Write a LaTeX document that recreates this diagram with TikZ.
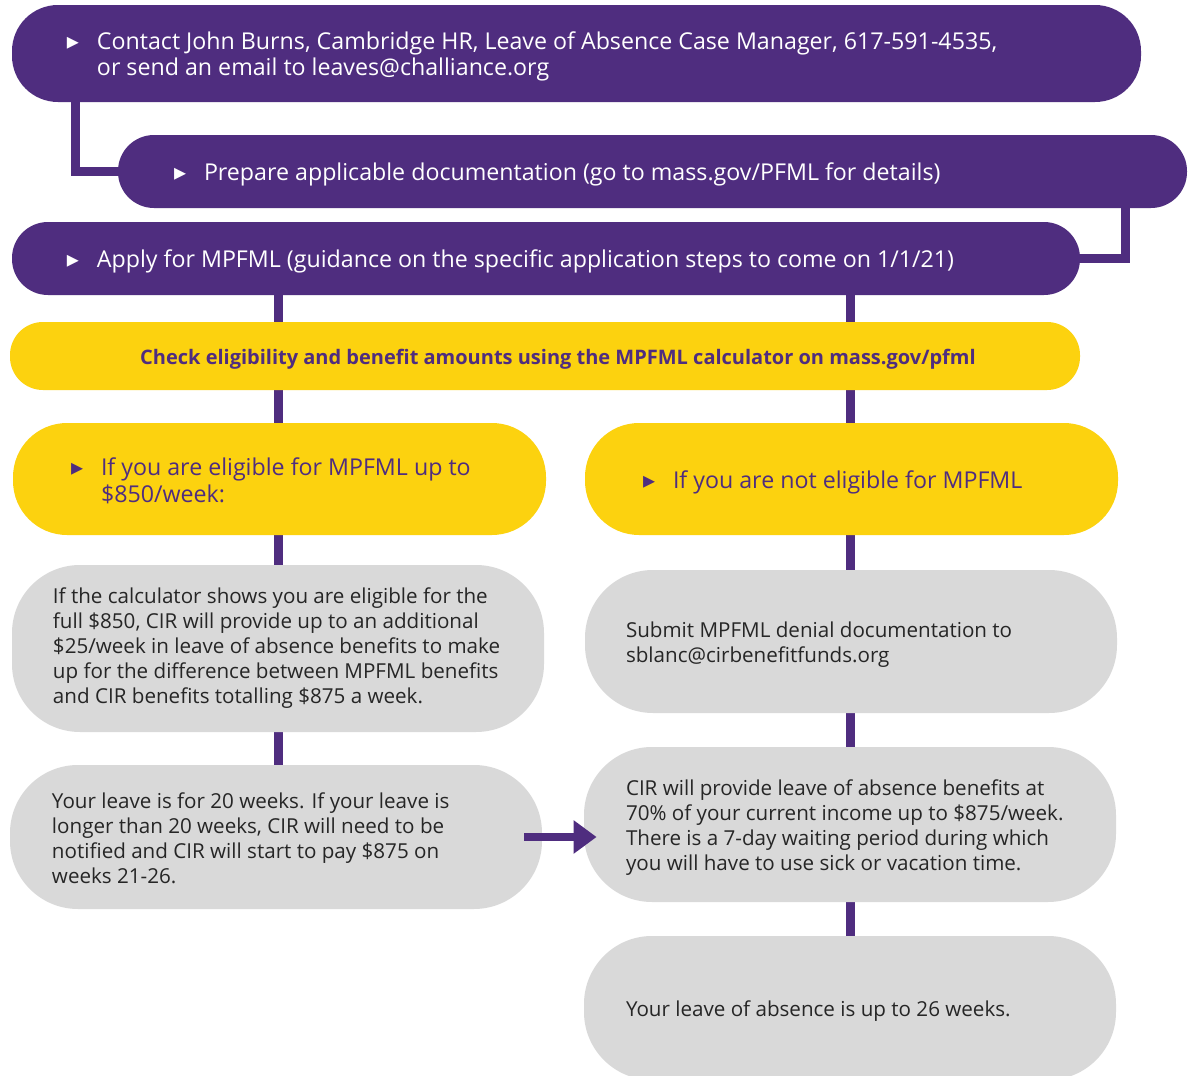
\documentclass[tikz,border=0pt]{standalone}
\usepackage{fontspec}
\setmainfont{Open Sans}
\newfontfamily\glyphfont{DejaVu Sans}
\usetikzlibrary{arrows.meta, calc, backgrounds}

\definecolor{cirpurple}{HTML}{4F2D7F}
\definecolor{ciryellow}{HTML}{FCD20F}
\definecolor{cirgray}{HTML}{D9D9D9}

\newcommand{\pointer}{\makebox[15pt][l]{\glyphfont\fontsize{12}{12}\selectfont ▸}}
\newcommand{\contindent}{\hspace*{15pt}}
% text block of fixed width, lowered a little inside its box
\newcommand{\boxtext}[3][1.8pt]{\makebox[#2][l]{\raisebox{-#1}[\height][\depth]{\begin{tabular}{@{}l@{}}#3\end{tabular}}}}

\begin{document}
\begin{tikzpicture}[
    x=0.5pt, y=-0.5pt,
    stepbox/.style={rectangle, fill=cirpurple, text=white, rounded corners=18pt, inner sep=0pt, minimum height=36.5pt, font=\fontsize{11.6}{13.5}\selectfont},
    banner/.style={rectangle, fill=ciryellow, text=cirpurple, rounded corners=16.5pt, inner sep=0pt, font=\bfseries\fontsize{10}{12}\selectfont},
    choicebox/.style={rectangle, fill=ciryellow, text=cirpurple, rounded corners=27pt, inner sep=0pt, minimum width=266.5pt, minimum height=56pt, font=\fontsize{11.6}{13.5}\selectfont},
    infobox/.style={rectangle, fill=cirgray, text=black!85, rounded corners=34pt, inner sep=0pt, minimum width=266pt, font=\fontsize{10.3}{12.5}\selectfont},
    link/.style={draw=cirpurple, line width=4.5pt}
    ]

    \useasboundingbox (0,0) rectangle (1191,1076);
    \clip (0,0) rectangle (1191,1076);

    % First steps
    \node[stepbox, rounded corners=23pt, minimum width=564.5pt, minimum height=48.5pt] (contact) at (576.5,53.5)
        {\boxtext{509.5pt}{\pointer Contact John Burns, Cambridge HR, Leave of Absence Case Manager, 617-591-4535,\\
        \contindent or send an email to leaves@challiance.org}};
    \node[stepbox, minimum width=534.5pt] (prep) at (652.5,171.5)
        {\boxtext{478.5pt}{\pointer Prepare applicable documentation (go to mass.gov/PFML for details)}};
    \node[stepbox, minimum width=534pt] (apply) at (546,258.5)
        {\boxtext{479pt}{\pointer Apply for MPFML (guidance on the specific application steps to come on 1/1/21)}};

    % Calculator
    \node[banner, minimum width=535pt, minimum height=34pt] (check) at (545,356)
        {\raisebox{-1.8pt}[\height][\depth]{\hspace*{13pt}Check eligibility and benefit amounts using the MPFML calculator on mass.gov/pfml}};

    % Eligible or not
    \node[choicebox] (eligible) at (279.5,479)
        {\boxtext[2.2pt]{208.5pt}{\pointer If you are eligible for MPFML up to\\ \contindent \$850/week:}};
    \node[choicebox] (notelig) at (851.5,479)
        {\boxtext{208.5pt}{\pointer If you are not eligible for MPFML}};

    % Left branch
    \node[infobox, minimum height=83.5pt] (full) at (278,648.5)
        {\boxtext[0pt]{225pt}{If the calculator shows you are eligible for the\\
        full \$850, CIR will provide up to an additional\\
        \$25/week in leave of absence benefits to make\\
        up for the difference between MPFML benefits\\
        and CIR benefits totalling \$875 a week.}};
    \node[infobox, minimum height=72pt] (wait) at (276,837)
        {\boxtext{224pt}{Your leave is for 20 weeks. If your leave is\\
        longer than 20 weeks, CIR will need to be\\
        notified and CIR will start to pay \$875 on\\
        weeks 21-26.}};

    % Right branch
    \node[infobox, minimum height=71.5pt] (denial) at (851,641.5)
        {\boxtext{225pt}{Submit MPFML denial documentation to\\
        sblanc@cirbenefitfunds.org}};
    \node[infobox, minimum height=77.5pt] (pay) at (850,824.5)
        {\boxtext{224pt}{CIR will provide leave of absence benefits at\\
        70\% of your current income up to \$875/week.\\
        There is a 7-day waiting period during which\\
        you will have to use sick or vacation time.}};
    \node[infobox, minimum height=72pt] (upto) at (850,1008)
        {\boxtext{224pt}{Your leave of absence is up to 26 weeks.}};

    % Past week 20
    \draw[-{Triangle[length=11.5pt, width=16pt]}, cirpurple, line width=4pt]
        ($(wait.east)+(-18,0)$) -- ($(pay.west |- wait.east)+(13,0)$);

    % Connectors behind the boxes
    \begin{scope}[on background layer]
        \fill[white] (0,0) rectangle (1191,1076);
        \draw[link] ($(contact.west)+(64,0)$) |- (prep.west);
        \draw[link] ($(prep.east)+(-62,0)$) |- (apply.east);
        \draw[link] (full |- apply) -- (full |- wait);
        \draw[link] (pay |- apply) -- (pay |- upto);
    \end{scope}

\end{tikzpicture}
\end{document}
